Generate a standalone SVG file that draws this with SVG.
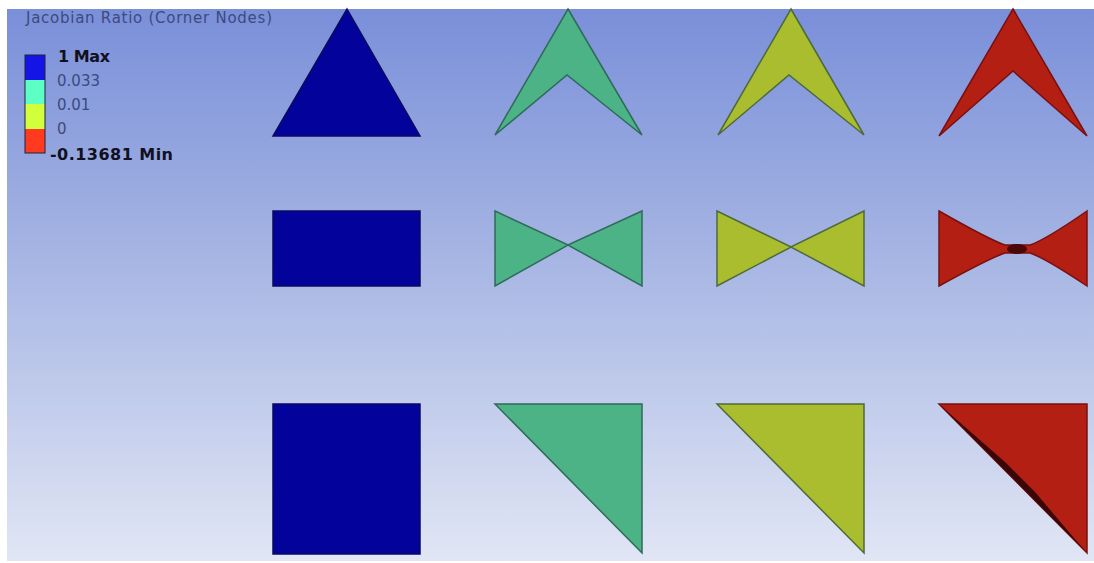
<svg xmlns="http://www.w3.org/2000/svg" width="1094" height="563" viewBox="0 0 1094 563">
<defs>
<linearGradient id="bg" x1="0" y1="0" x2="0" y2="1">
<stop offset="0" stop-color="#7a8fd9"/>
<stop offset="0.45" stop-color="#a6b5e3"/>
<stop offset="1" stop-color="#e1e6f5"/>
</linearGradient>
<style>
.t{font-family:"DejaVu Sans",sans-serif;font-size:15px;fill:#3c4a80}
.b{font-weight:bold;fill:#101020;font-size:16px}
.blue{fill:#03039c;stroke:#0a0a60;stroke-width:1.5}
.grn{fill:#4cb386;stroke:#2f6a5a;stroke-width:1.5}
.yel{fill:#a9bd2e;stroke:#4d6a3a;stroke-width:1.5}
.red{fill:#b31f12;stroke:#7a1010;stroke-width:1.5}
</style>
</defs>
<rect width="1094" height="563" fill="#ffffff"/>
<rect x="7" y="9" width="1087" height="552" fill="url(#bg)"/>
<g id="legend">
<text class="t" x="26" y="23" font-size="16.5" textLength="246">Jacobian Ratio (Corner Nodes)</text>
<rect x="25" y="55" width="20" height="25" fill="#1414e6"/>
<rect x="25" y="80" width="20" height="24" fill="#5effc4"/>
<rect x="25" y="104" width="20" height="25" fill="#d2ff3c"/>
<rect x="25" y="129" width="20" height="24" fill="#ff3a1e"/>
<rect x="25" y="55" width="20" height="98" fill="none" stroke="#202040" stroke-width="1"/>
<text class="t b" x="58" y="62" font-size="15" textLength="52">1 Max</text>
<text class="t" x="57" y="86" textLength="43">0.033</text>
<text class="t" x="57" y="110">0.01</text>
<text class="t" x="57" y="134">0</text>
<text class="t b" x="50" y="160" textLength="123">-0.13681 Min</text>
</g>
<g id="tri-blue"><polygon class="blue" points="347,9 420,136 273,136"/></g>
<g id="arrow-green"><polygon class="grn" points="568,9 642,135 567,75 495,135"/></g>
<g id="arrow-yellow"><polygon class="yel" points="791,9 864,135 789,75 718,135"/></g>
<g id="arrow-red"><polygon class="red" points="1013,9 1087,136 1013,71 939,136"/></g>
<g id="rect-blue"><rect class="blue" x="273" y="211" width="147" height="75"/></g>
<g id="bow-green"><polygon class="grn" points="495,211 568,245 642,211 642,286 568,245 495,286"/></g>
<g id="bow-yellow"><polygon class="yel" points="717,211 791,247 864,211 864,286 791,247 717,286"/></g>
<g id="bow-red"><path class="red" d="M939,211 Q990,240 1005,245 L1030,245 Q1045,240 1087,211 L1087,286 Q1045,258 1030,253 L1005,253 Q990,258 939,286 Z"/><ellipse cx="1017" cy="249" rx="10" ry="5" fill="#4a0808"/></g>
<g id="sq-blue"><rect class="blue" x="273" y="404" width="147" height="150"/></g>
<g id="tri-green"><polygon class="grn" points="495,404 642,404 642,553"/></g>
<g id="tri-yellow"><polygon class="yel" points="717,404 864,404 864,553"/></g>
<g id="tri-red"><polygon class="red" points="939,404 1087,404 1087,553"/><polygon points="941,406 1005,462 1035,492 1085,551" fill="#3a0606"/></g>
</svg>
